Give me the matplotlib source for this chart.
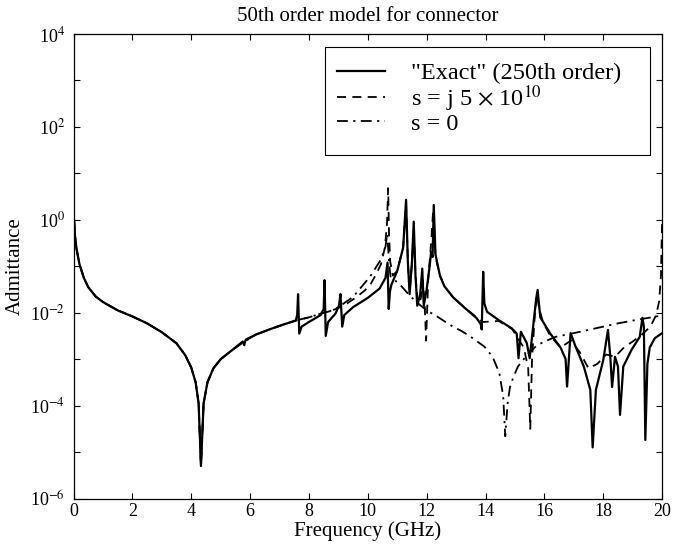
import numpy as np
import matplotlib
matplotlib.use("Agg")
import matplotlib.pyplot as plt
from matplotlib.patches import Rectangle
from matplotlib.ticker import LogLocator, FuncFormatter, MultipleLocator

plt.rcParams['font.family'] = ['Liberation Serif', 'DejaVu Serif']
plt.rcParams['mathtext.fontset'] = 'stix'

# "Exact" (250th order) admittance, frequency in GHz, log10 of admittance
exact_f = [0.02, 0.05, 0.1, 0.2, 0.35, 0.5, 0.75, 1.0, 1.5, 2.0, 2.5, 3.0, 3.5, 3.8, 4.0,
           4.15, 4.25, 4.33, 4.42, 4.55, 4.75, 5.0, 5.4, 5.75, 5.8, 5.85, 6.2, 6.7, 7.2,
           7.55, 7.6, 7.63, 7.67, 7.75, 8.0, 8.4, 8.5, 8.53, 8.57, 8.65, 8.9, 9.02, 9.07,
           9.13, 9.2, 9.5, 10.0, 10.4, 10.6, 10.67, 10.71, 10.75, 10.8, 11.0, 11.2, 11.3,
           11.36, 11.42, 11.5, 11.56, 11.62, 11.68, 11.78, 11.85, 11.9, 12.0, 12.1, 12.15,
           12.2, 12.24, 12.3, 12.45, 12.6, 12.9, 13.3, 13.7, 13.84, 13.87, 13.92, 13.96,
           14.05, 14.45, 14.9, 15.06, 15.12, 15.2, 15.4, 15.5, 15.6, 15.72, 15.77, 15.86,
           16.2, 16.55, 16.72, 16.77, 16.89, 17.06, 17.34, 17.56, 17.64, 17.75, 18.0,
           18.16, 18.24, 18.3, 18.4, 18.5, 18.57, 18.68, 18.96, 19.24, 19.33, 19.38,
           19.43, 19.5, 19.58, 19.75, 20.0]
exact_log = [-0.02, -0.35, -0.62, -0.95, -1.25, -1.45, -1.65, -1.77, -1.95, -2.08, -2.23,
             -2.42, -2.66, -2.92, -3.18, -3.5, -3.95, -5.3, -3.95, -3.5, -3.2, -3.0, -2.8,
             -2.62, -2.7, -2.58, -2.47, -2.35, -2.24, -2.17, -2.05, -1.6, -2.45, -2.3,
             -2.2, -2.05, -1.92, -1.3, -2.5, -2.2, -2.02, -1.85, -1.6, -2.3, -2.05, -1.88,
             -1.68, -1.48, -1.25, -0.92, -1.92, -1.55, -1.4, -1.1, -0.6, 0.43, -0.9, -1.6,
             -0.9, -0.04, -1.2, -1.85, -1.6, -1.05, -1.85, -1.5, -1.0, -0.7, -0.8, 0.32,
             -0.75, -1.2, -1.43, -1.67, -1.9, -2.12, -2.25, -2.36, -1.12, -1.8, -1.98,
             -2.16, -2.34, -2.45, -2.98, -2.41, -2.65, -2.98, -2.4, -1.7, -1.51, -2.1,
             -2.45, -2.75, -3.0, -3.59, -2.44, -2.73, -3.16, -3.66, -4.9, -3.66, -3.02,
             -2.37, -2.95, -3.6, -2.95, -3.16, -4.2, -3.16, -2.8, -2.52, -2.11, -2.3,
             -4.74, -3.1, -2.75, -2.55, -2.44]

# 50th order model, expansion at s = j 5e10
jw_f = [0.02, 0.05, 0.1, 0.2, 0.35, 0.5, 0.75, 1.0, 1.5, 2.0, 2.5, 3.0, 3.5, 3.8, 4.0, 4.15,
        4.25, 4.33, 4.42, 4.55, 4.75, 5.0, 5.4, 5.8, 6.2, 6.7, 7.2, 7.6, 8.0, 8.4, 8.7, 9.0,
        9.3, 9.6, 9.9, 10.1, 10.3, 10.45, 10.58, 10.65, 10.69, 10.72, 10.76, 10.85, 11.0,
        11.2, 11.3, 11.36, 11.42, 11.5, 11.56, 11.62, 11.7, 11.8, 11.87, 11.93, 11.98,
        12.05, 12.15, 12.22, 12.3, 12.45, 12.6, 12.9, 13.3, 13.7, 13.9, 14.45, 14.9, 15.1,
        15.3, 15.45, 15.52, 15.58, 15.68, 15.75, 15.82, 15.95, 16.2, 16.55, 16.9, 17.2,
        17.5, 17.8, 18.1, 18.4, 18.7, 19.0, 19.3, 19.6, 19.8, 19.9, 19.96, 20.0]
jw_log = [-0.02, -0.35, -0.62, -0.95, -1.25, -1.45, -1.65, -1.77, -1.95, -2.08, -2.23, -2.42,
          -2.66, -2.92, -3.18, -3.5, -3.95, -5.3, -3.95, -3.5, -3.2, -3.0, -2.8, -2.62, -2.47,
          -2.35, -2.24, -2.16, -2.1, -2.02, -1.97, -1.9, -1.8, -1.67, -1.52, -1.38, -1.15,
          -0.95, -0.6, -0.1, 0.68, -0.3, -0.9, -1.2, -1.1, -0.6, 0.35, -0.9, -1.55, -0.95,
          -0.2, -1.2, -1.8, -1.7, -1.3, -1.8, -2.6, -1.3, -0.5, 0.2, -0.8, -1.2, -1.43,
          -1.67, -1.9, -2.1, -2.2, -2.18, -2.35, -2.55, -2.75, -3.2, -4.5, -3.0, -2.0, -1.6,
          -1.9, -2.2, -2.5, -2.75, -2.6, -2.85, -3.2, -3.1, -2.9, -2.95, -2.75, -2.62, -2.48,
          -2.3, -2.05, -1.75, -1.2, 0.0]

# 50th order model, expansion at s = 0
dc_f = [0.02, 0.05, 0.1, 0.2, 0.35, 0.5, 0.75, 1.0, 1.5, 2.0, 2.5, 3.0, 3.5, 3.8, 4.0, 4.15,
        4.25, 4.33, 4.42, 4.55, 4.75, 5.0, 5.4, 5.8, 6.2, 6.7, 7.2, 7.6, 8.0, 8.4, 8.7, 9.0,
        9.5, 10.08, 10.43, 10.6, 10.66, 10.72, 10.77, 11.1, 11.45, 11.8, 12.0, 12.4, 12.81,
        13.2, 13.5, 13.96, 14.24, 14.47, 14.6, 14.67, 14.75, 14.83, 14.95, 15.1, 15.41,
        15.75, 16.08, 16.38, 17.0, 17.5, 18.0, 18.5, 19.0, 19.72, 20.0]
dc_log = [-0.02, -0.35, -0.62, -0.95, -1.25, -1.45, -1.65, -1.77, -1.95, -2.08, -2.23, -2.42,
          -2.66, -2.92, -3.18, -3.5, -3.95, -5.3, -3.95, -3.5, -3.2, -3.0, -2.8, -2.62, -2.47,
          -2.35, -2.24, -2.16, -2.1, -2.02, -1.97, -1.88, -1.66, -1.22, -0.87, -0.58, -0.3,
          -0.9, -1.22, -1.4, -1.65, -1.85, -1.95, -2.1, -2.27, -2.4, -2.52, -2.73, -2.95,
          -3.3, -3.8, -4.66, -3.95, -3.6, -3.38, -3.16, -2.91, -2.7, -2.6, -2.52, -2.44,
          -2.37, -2.3, -2.23, -2.17, -2.09, -2.06]

fig = plt.figure(figsize=(6.84, 5.48), dpi=100)
ax = fig.add_axes([0.1075, 0.0903, 0.8605, 0.8477])

ax.semilogy(exact_f, 10.0 ** np.array(exact_log), color='black', lw=1.6,
            label='"Exact" (250th order)')
ax.semilogy(jw_f, 10.0 ** np.array(jw_log), color='black', lw=1.3, ls=(0, (5, 3.5)),
            label=r's = j 5 $\times$ 10$^{10}$')
ax.semilogy(dc_f, 10.0 ** np.array(dc_log), color='black', lw=1.3,
            ls=(0, (6, 3, 1.2, 3)), label='s = 0')

ax.set_xlim(0, 20)
ax.set_ylim(1e-6, 1e4)
ax.xaxis.set_major_locator(MultipleLocator(2))
ax.yaxis.set_major_locator(LogLocator(base=10, numticks=20))
ax.yaxis.set_minor_locator(plt.NullLocator())


def dec_fmt(v, pos):
    e = int(round(np.log10(v)))
    if e % 2:
        return ''
    return r'10$^{%d}$' % e


ax.yaxis.set_major_formatter(FuncFormatter(dec_fmt))
ax.tick_params(direction='in', top=True, right=True, length=4, width=0.8, labelsize=13)
ax.tick_params(axis='y', pad=6)
for s in ax.spines.values():
    s.set_linewidth(0.9)

ax.set_title('50th order model for connector', fontsize=15, pad=9)
ax.set_xlabel('Frequency (GHz)', fontsize=15, labelpad=1)
ax.set_ylabel('Admittance', fontsize=15, labelpad=4)

# legend box drawn separately so its padding matches the original
ax.add_patch(Rectangle((0.427, 0.7395), 0.553, 0.2335, transform=ax.transAxes,
                       facecolor='white', edgecolor='black', lw=0.8, zorder=4))
leg = ax.legend(loc='upper left', bbox_to_anchor=(0.447, 0.939), fontsize=17.5,
                frameon=False, handlelength=2.0, handletextpad=1.05,
                labelspacing=-0.05, borderpad=0, borderaxespad=0)
leg.set_zorder(5)

fig.savefig('out.png', dpi=100)
